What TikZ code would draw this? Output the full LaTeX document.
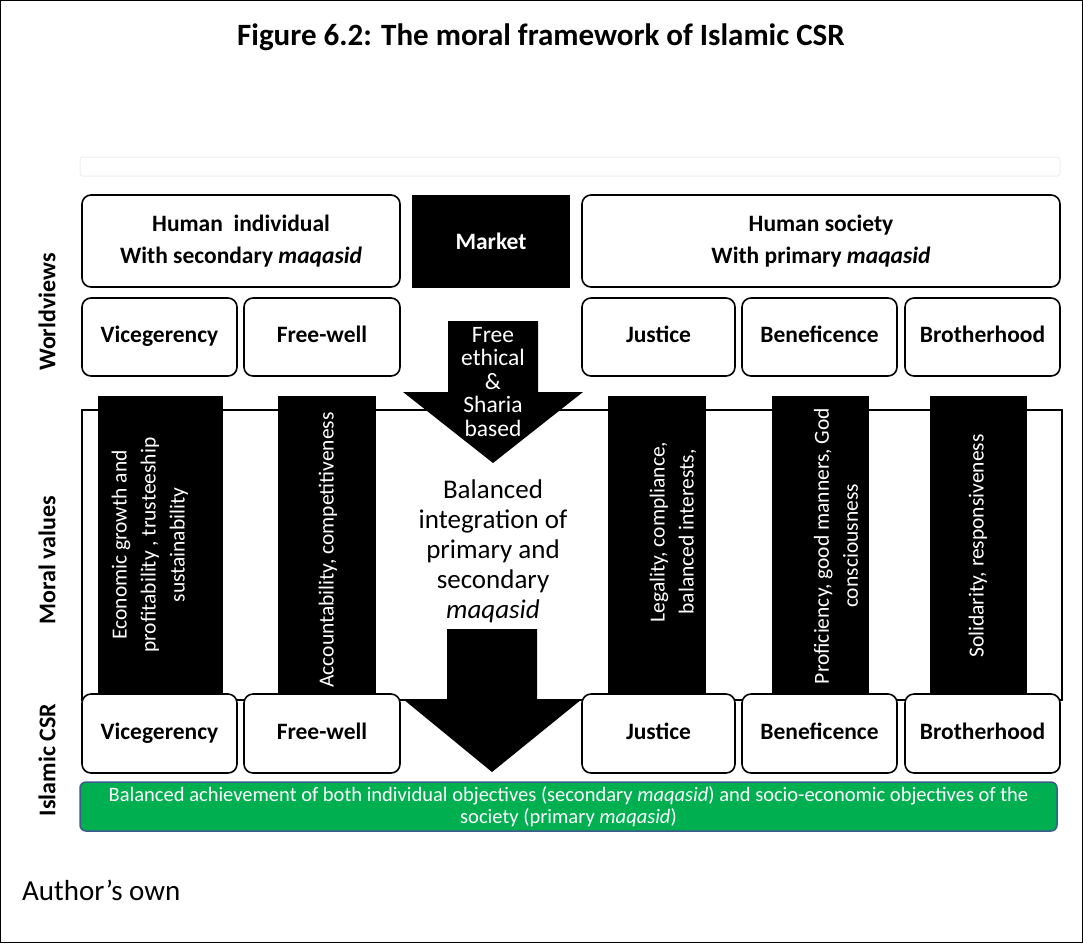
\documentclass[tikz,border=0pt]{standalone}
\usepackage{fontspec}
\setmainfont{Carlito}
\usetikzlibrary{positioning}
\definecolor{csrgreen}{RGB}{0,176,80}
\definecolor{csrblue}{RGB}{60,90,140}

\begin{document}
\begin{tikzpicture}[x=1pt, y=-1pt,
			box/.style={draw, line width=1.6pt, rounded corners=9pt, fill=white, inner sep=0pt,
				font=\bfseries\fontsize{23.5}{32}\selectfont},
			onebox/.style={box, text height=16pt, text depth=5pt},
			bar/.style={fill=black, draw=black, inner sep=0pt, minimum height=297pt},
			vtext/.style={text=white, rotate=90, font=\fontsize{21.5}{29}\selectfont},
			side/.style={rotate=90, font=\bfseries\fontsize{24}{28}\selectfont},
			every text node part/.style={align=center}]
			\useasboundingbox (0,0) rectangle (1083,943);
			\draw[line width=1pt] (0.5,0.5) rectangle (1082.5,942.5);
			
			\node[font=\bfseries\fontsize{31}{36}\selectfont](title) at (541,37) {Figure 6.2: The moral framework of Islamic CSR};
			\node[draw=black!7, line width=1pt, rounded corners=3pt, minimum width=980pt, minimum height=19pt](strip) at (570,166.5) {};
			
			% worldviews
			\node[box, minimum width=318pt, minimum height=92pt](indiv) at (241,241) {Human\ \ individual\\With secondary \textit{maqasid}};
			\node[fill=black, text=white, inner sep=0pt, minimum width=158pt, minimum height=93pt,
				font=\bfseries\fontsize{23.5}{28}\selectfont](market) at (491,241) {Market};
			\node[box, minimum width=478pt, minimum height=92pt](society) at (821,241) {Human society\\With primary \textit{maqasid}};
			
			\node[onebox, minimum width=155pt, minimum height=78pt](vice) at (159.5,337) {Vicegerency};
			\node[onebox, minimum width=156pt, minimum height=78pt](free) at (322,337) {Free-well};
			\node[onebox, minimum width=153pt, minimum height=78pt](justice) at (658.5,337) {Justice};
			\node[onebox, minimum width=155pt, minimum height=78pt](benef) at (819.5,337) {Beneficence};
			\node[onebox, minimum width=155pt, minimum height=78pt](brother) at (982.5,337) {Brotherhood};
			
			% moral values
			\node[draw, line width=1.6pt, fill=white, minimum width=980pt, minimum height=290pt](frame) at (572,555) {};
			
			\node[bar, minimum width=124pt](bar1) at (160,544.5) {};
			\node[bar, minimum width=97pt](bar2) at (326.5,544.5) {};
			\node[bar, minimum width=97pt](bar3) at (656.5,544.5) {};
			\node[bar, minimum width=96pt](bar4) at (820,544.5) {};
			\node[bar, minimum width=96pt](bar5) at (978,544.5) {};
			
			\node[vtext](val1) at (150,545) {Economic growth and\\profitability , trusteeship\\sustainability};
			\node[vtext](val2) at (328,550) {Accountability, competitiveness};
			\node[vtext](val3) at (673,532) {Legality, compliance,\\balanced interests,};
			\node[vtext](val4) at (836,546) {Proficiency, good manners, God\\consciousness};
			\node[vtext](val5) at (978,546) {Solidarity, responsiveness};
			
			\node[font=\fontsize{27}{30}\selectfont](mid) at (493,551) {Balanced\\integration of\\primary and\\secondary\\\textit{maqasid}};
			
			\fill (447,629) -- (537,629) -- (537,699) -- (582,699) -- (492,772) -- (403,699) -- (447,699) -- cycle;
			
			% islamic csr
			\node[onebox, minimum width=155pt, minimum height=79pt](vice2) at (159.5,733.5) {Vicegerency};
			\node[onebox, minimum width=156pt, minimum height=79pt](free2) at (322,733.5) {Free-well};
			\node[onebox, minimum width=153pt, minimum height=79pt](justice2) at (658.5,733.5) {Justice};
			\node[onebox, minimum width=155pt, minimum height=79pt](benef2) at (819.5,733.5) {Beneficence};
			\node[onebox, minimum width=155pt, minimum height=79pt](brother2) at (982.5,733.5) {Brotherhood};
			
			\fill (448,321) -- (538,321) -- (538,392) -- (583,392) -- (493,463) -- (403,392) -- (448,392) -- cycle;
			\node[text=white, font=\fontsize{23.5}{23.5}\selectfont](ethic) at (493,382) {Free\\ethical\\\&\\Sharia\\based};
			
			\node[fill=csrgreen, draw=csrblue, line width=1.5pt, rounded corners=6pt, text=white, inner sep=0pt,
				minimum width=977pt, minimum height=49pt, font=\fontsize{20.5}{21.5}\selectfont](goal) at (568.5,806.5)
				{Balanced achievement of both individual objectives (secondary \textit{maqasid}) and socio-economic objectives of the\\society (primary \textit{maqasid})};
			
			\node[side](lworld) at (47,312) {Worldviews};
			\node[side](lmoral) at (47,560) {Moral values};
			\node[side](lcsr) at (47,760) {Islamic CSR};
			
			\node[anchor=west, inner sep=0pt, font=\fontsize{29}{33}\selectfont](source) at (22,890) {Author’s own};
			
		\end{tikzpicture}
\end{document}
